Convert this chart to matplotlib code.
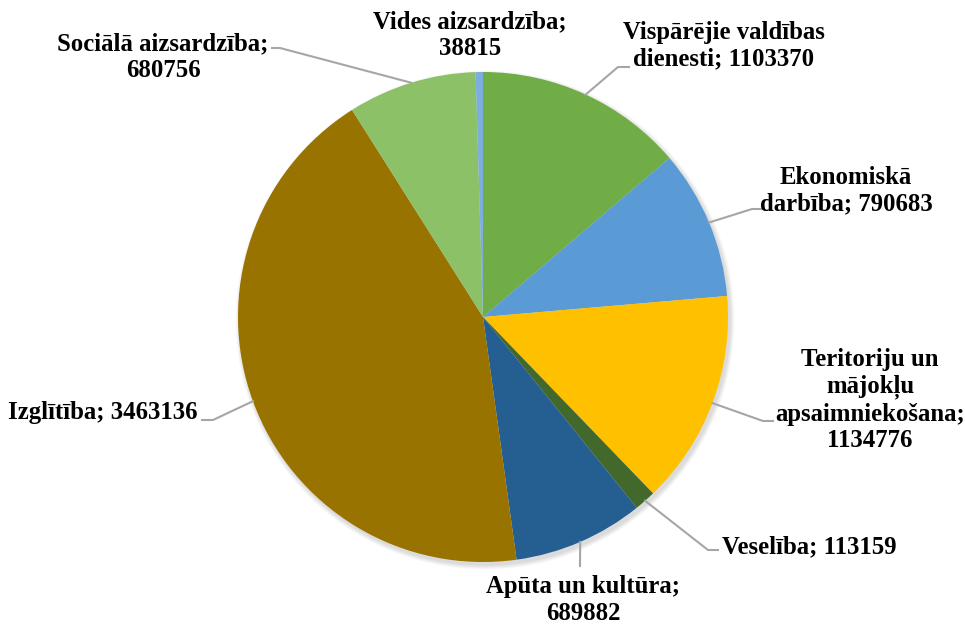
import matplotlib.pyplot as plt
import numpy as np
from matplotlib.patches import Circle

# data
values = [1103370, 790683, 1134776, 113159, 689882, 3463136, 680756, 38815]
label_fmt = [
    "Vispārējie valdības\ndienesti; {}",
    "Ekonomiskā\ndarbība; {}",
    "Teritoriju un\nmājokļu\napsaimniekošana;\n{}",
    "Veselība; {}",
    "Apūta un kultūra;\n{}",
    "Izglītība; {}",
    "Sociālā aizsardzība;\n{}",
    "Vides aizsardzība;\n{}",
]
colors = ["#70AD47", "#5B9BD5", "#FFC000", "#43682B",
          "#255E91", "#997300", "#8CC168", "#7CAFDD"]

# layout in pixels (y down)
cx, cy, r = 483, 317, 245
label_pos = [(724, 46, "center"), (846, 191, "center"), (870, 400, "center"),
             (722, 547, "left"), (583, 600, "center"), (198, 412, "right"),
             (163, 57, "center"), (470, 35, "center")]
leader = [[(618, 67), (629, 67)], [(752, 209), (762, 209)],
          [(763, 421), (773, 421)], [(708, 550), (718, 550)],
          [(580, 566)], [(213, 420), (202, 420)],
          [(280, 48), (272, 48)], None]

fig = plt.figure(figsize=(9.65, 6.24), dpi=100)
ax = fig.add_axes([0, 0, 1, 1])

# soft shadow
for i in range(6):
    ax.add_patch(Circle((cx + 2, cy + 3), r + 0.5 + i * 0.8, color="black",
                        alpha=0.025, lw=0, zorder=0))

wedges, _ = ax.pie(values, colors=colors, startangle=-90, counterclock=True,
                   center=(cx, cy), radius=r, frame=True,
                   wedgeprops=dict(linewidth=0))
ax.set_xlim(0, 965)
ax.set_ylim(624, 0)
ax.axis("off")

for w, v, fmt, (tx, ty, ha), pts in zip(wedges, values, label_fmt, label_pos, leader):
    if pts is not None:
        mid = np.deg2rad((w.theta1 + w.theta2) / 2)
        xs = [cx + r * np.cos(mid)] + [p[0] for p in pts]
        ys = [cy + r * np.sin(mid)] + [p[1] for p in pts]
        ax.plot(xs, ys, color="#A6A6A6", lw=1.5, zorder=1)
    ax.text(tx, ty, fmt.format(v), ha=ha, va="center", multialignment="center",
            fontsize=17.8, fontweight="bold", family="Liberation Serif",
            linespacing=1.2, color="black")

fig.savefig("out.png", dpi=100)
